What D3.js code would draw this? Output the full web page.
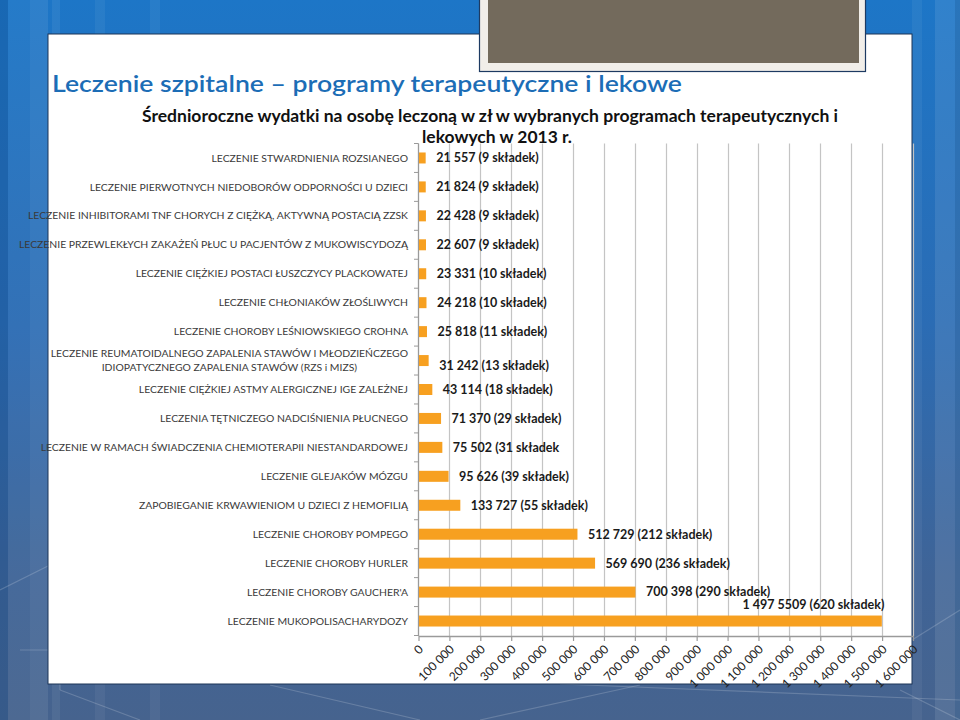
<!DOCTYPE html>
<html>
<head>
<meta charset="utf-8">
<script src="https://cdn.jsdelivr.net/npm/d3@7"></script>
<style>
  html, body { margin: 0; padding: 0; background: #2a6db5; }
  svg { display: block; }
</style>
</head>
<body>
<svg id="chart" width="960" height="720"></svg>
<script>
// ---------------- DATA ----------------
const categories = [
  "LECZENIE STWARDNIENIA ROZSIANEGO",
  "LECZENIE PIERWOTNYCH NIEDOBORÓW ODPORNOŚCI U DZIECI",
  "LECZENIE INHIBITORAMI TNF CHORYCH Z CIĘŻKĄ, AKTYWNĄ POSTACIĄ ZZSK",
  "LECZENIE PRZEWLEKŁYCH ZAKAŻEŃ PŁUC U PACJENTÓW Z MUKOWISCYDOZĄ",
  "LECZENIE CIĘŻKIEJ POSTACI ŁUSZCZYCY PLACKOWATEJ",
  "LECZENIE CHŁONIAKÓW ZŁOŚLIWYCH",
  "LECZENIE CHOROBY LEŚNIOWSKIEGO CROHNA",
  "LECZENIE REUMATOIDALNEGO ZAPALENIA STAWÓW I MŁODZIEŃCZEGO\nIDIOPATYCZNEGO ZAPALENIA STAWÓW (RZS i MIZS)",
  "LECZENIE CIĘŻKIEJ ASTMY ALERGICZNEJ IGE ZALEŻNEJ",
  "LECZENIA TĘTNICZEGO NADCIŚNIENIA PŁUCNEGO",
  "LECZENIE W RAMACH ŚWIADCZENIA CHEMIOTERAPII NIESTANDARDOWEJ",
  "LECZENIE GLEJAKÓW MÓZGU",
  "ZAPOBIEGANIE KRWAWIENIOM U DZIECI Z HEMOFILIĄ",
  "LECZENIE CHOROBY POMPEGO",
  "LECZENIE CHOROBY HURLER",
  "LECZENIE CHOROBY GAUCHER'A",
  "LECZENIE MUKOPOLISACHARYDOZY"
];
const values = [21557, 21824, 22428, 22607, 23331, 24218, 25818, 31242, 43114,
                71370, 75502, 95626, 133727, 512729, 569690, 700398, 1497551];
const valueLabels = [
  "21 557 (9 składek)", "21 824 (9 składek)", "22 428 (9 składek)", "22 607 (9 składek)",
  "23 331 (10 składek)", "24 218 (10 składek)", "25 818 (11 składek)", "31 242 (13 składek)",
  "43 114 (18 składek)", "71 370 (29 składek)", "75 502 (31 składek", "95 626 (39 składek)",
  "133 727 (55 składek)", "512 729 (212 składek)", "569 690 (236 składek)",
  "700 398 (290 składek)", "1 497 5509 (620 składek)"
];
const xTickValues = [0, 100000, 200000, 300000, 400000, 500000, 600000, 700000, 800000,
                     900000, 1000000, 1100000, 1200000, 1300000, 1400000, 1500000, 1600000];
const slideTitle = "Leczenie szpitalne – programy terapeutyczne i lekowe";
const chartTitle = ["Średnioroczne wydatki na osobę leczoną w zł w wybranych programach terapeutycznych i",
                    "lekowych w 2013 r."];

// ---------------- DRAWING ----------------
const svg = d3.select("#chart");
const defs = svg.append("defs");
const bg = defs.append("linearGradient").attr("id", "bg").attr("x1", 0).attr("y1", 0).attr("x2", 0).attr("y2", 1);
bg.append("stop").attr("offset", "0%").attr("stop-color", "#1d76c7");
bg.append("stop").attr("offset", "45%").attr("stop-color", "#2b6cb4");
bg.append("stop").attr("offset", "80%").attr("stop-color", "#3f6497");
bg.append("stop").attr("offset", "100%").attr("stop-color", "#46638e");

svg.append("rect").attr("width", 960).attr("height", 720).attr("fill", "url(#bg)");
// decorative stripes of the slide background
const stripes = [[0, 8, "#0b3f7a", 0.25], [8, 22, "#ffffff", 0.04], [30, 18, "#ffffff", 0.08],
                 [52, 8, "#ffffff", 0.06], [95, 10, "#ffffff", 0.05], [150, 10, "#ffffff", 0.05],
                 [912, 10, "#ffffff", 0.05], [935, 25, "#ffffff", 0.09], [955, 5, "#0b3f7a", 0.2]];
svg.selectAll("rect.stripe").data(stripes).join("rect").attr("class", "stripe")
  .attr("x", d => d[0]).attr("y", 0).attr("width", d => d[1]).attr("height", 720)
  .attr("fill", d => d[2]).attr("opacity", d => d[3]);
const deco = [[0, 590, 60, 560], [60, 560, 100, 590], [20, 650, 100, 650], [60, 600, 60, 690],
              [60, 690, 140, 720], [270, 685, 420, 720], [480, 720, 640, 685], [560, 684, 960, 700],
              [912, 640, 960, 610], [900, 690, 960, 720]];
svg.selectAll("line.deco").data(deco).join("line").attr("class", "deco")
  .attr("x1", d => d[0]).attr("y1", d => d[1]).attr("x2", d => d[2]).attr("y2", d => d[3])
  .attr("stroke", "#ffffff").attr("stroke-opacity", 0.18).attr("stroke-width", 1.2);

// white content panel
svg.append("rect").attr("x", 48).attr("y", 34).attr("width", 864).attr("height", 650)
  .attr("fill", "#ffffff").attr("stroke", "#1d3557").attr("stroke-width", 1);

// grey picture placeholder box at top
svg.append("rect").attr("x", 479.5).attr("y", -2).attr("width", 386).attr("height", 73.5)
  .attr("fill", "#f1eee9").attr("stroke", "#1d3a62").attr("stroke-width", 1.2);
svg.append("rect").attr("x", 488).attr("y", -2).attr("width", 371).attr("height", 65)
  .attr("fill", "#736a5c");

// slide title
svg.append("text").attr("x", 52).attr("y", 92)
  .attr("font-family", "Lato, 'Noto Sans', sans-serif").attr("font-size", 23.5).attr("font-weight", 600)
  .attr("fill", "#1c6db6").attr("textLength", 630).attr("lengthAdjust", "spacingAndGlyphs")
  .text(slideTitle);

// chart title
svg.append("text").attr("x", 490).attr("y", 122).attr("text-anchor", "middle")
  .attr("font-family", "Lato, 'Noto Sans', sans-serif").attr("font-weight", "bold").attr("font-size", 17)
  .attr("fill", "#111").attr("textLength", 696).attr("lengthAdjust", "spacingAndGlyphs")
  .text(chartTitle[0]);
svg.append("text").attr("x", 497).attr("y", 143).attr("text-anchor", "middle")
  .attr("font-family", "Lato, 'Noto Sans', sans-serif").attr("font-weight", "bold").attr("font-size", 17)
  .attr("fill", "#111").attr("textLength", 150).attr("lengthAdjust", "spacingAndGlyphs")
  .text(chartTitle[1]);

// scales
const x = d3.scaleLinear().domain([0, 1600000]).range([418.5, 913]);
const y = d3.scaleBand().domain(categories).range([143.5, 635.5]).paddingInner(0.62).paddingOuter(0.31);
const step = y.step();
const plotTop = 143.5, plotBottom = 636;

// gridlines
svg.append("g").selectAll("line").data(xTickValues.slice(1)).join("line")
  .attr("x1", d => Math.round(x(d)) + 0.5).attr("x2", d => Math.round(x(d)) + 0.5)
  .attr("y1", plotTop).attr("y2", plotBottom)
  .attr("stroke", "#c4c4c4").attr("stroke-width", 1.2);

// x axis
const fmt = v => d3.format(",")(v).replace(/,/g, " ");
const xAxis = svg.append("g").attr("transform", `translate(0,${plotBottom})`)
  .call(d3.axisBottom(x).tickValues(xTickValues).tickFormat(fmt).tickSize(5).tickSizeOuter(0));
xAxis.select(".domain").attr("stroke", "#9a9a9a").attr("stroke-width", 1.3);
xAxis.selectAll(".tick line").attr("stroke", "#9a9a9a").attr("stroke-width", 1.2);
xAxis.selectAll(".tick text")
  .attr("font-family", "Lato, 'Noto Sans', sans-serif").attr("font-size", 12).attr("fill", "#222")
  .attr("text-anchor", "end").attr("dy", null).attr("y", 0)
  .attr("transform", "translate(5,14) rotate(-45)");

// y axis line and ticks at band boundaries
svg.append("line").attr("x1", 418.5).attr("x2", 418.5).attr("y1", plotTop).attr("y2", plotBottom)
  .attr("stroke", "#9a9a9a").attr("stroke-width", 1.3);
svg.append("g").selectAll("line").data(d3.range(categories.length + 1)).join("line")
  .attr("x1", 414).attr("x2", 418.5)
  .attr("y1", i => plotTop + i * step).attr("y2", i => plotTop + i * step)
  .attr("stroke", "#9a9a9a").attr("stroke-width", 1);

// bars
svg.append("g").selectAll("rect").data(categories).join("rect")
  .attr("x", x(0) + 0.5).attr("y", c => y(c))
  .attr("width", (c, i) => x(values[i]) - x(0)).attr("height", y.bandwidth())
  .attr("fill", "#f7a020");

// category labels
const catG = svg.append("g").attr("font-family", "Lato, 'Noto Sans', sans-serif")
  .attr("font-size", 10.4).attr("fill", "#3a3a3a");
categories.forEach((c, i) => {
  const lines = c.split("\n");
  const cy = y(c) + y.bandwidth() / 2;
  if (lines.length === 1) {
    catG.append("text").attr("x", 408).attr("y", cy).attr("dy", "0.35em")
      .attr("text-anchor", "end").text(c);
  } else {
    const t0 = catG.append("text").attr("x", 408).attr("y", cy - 7).attr("dy", "0.35em")
      .attr("text-anchor", "end").text(lines[0]);
    const w = t0.node().getComputedTextLength();
    lines.slice(1).forEach((ln, k) => {
      catG.append("text").attr("x", 408 - w / 2).attr("y", cy + 7 * (k + 1)).attr("dy", "0.35em")
        .attr("text-anchor", "middle").text(ln);
    });
  }
});

// value labels
const valG = svg.append("g").attr("font-family", "Lato, 'Noto Sans', sans-serif")
  .attr("font-weight", "bold").attr("font-size", 12.5).attr("fill", "#1a1a1a");
categories.forEach((c, i) => {
  const cy = y(c) + y.bandwidth() / 2;
  const last = i === categories.length - 1;
  valG.append("text")
    .attr("x", last ? x(values[i]) + 3 : x(values[i]) + 11)
    .attr("y", last ? y(c) - 7 : cy + (i === 7 ? 5 : 0))
    .attr("dy", last ? null : "0.35em")
    .attr("text-anchor", last ? "end" : "start")
    .text(valueLabels[i]);
});
</script>
</body>
</html>
